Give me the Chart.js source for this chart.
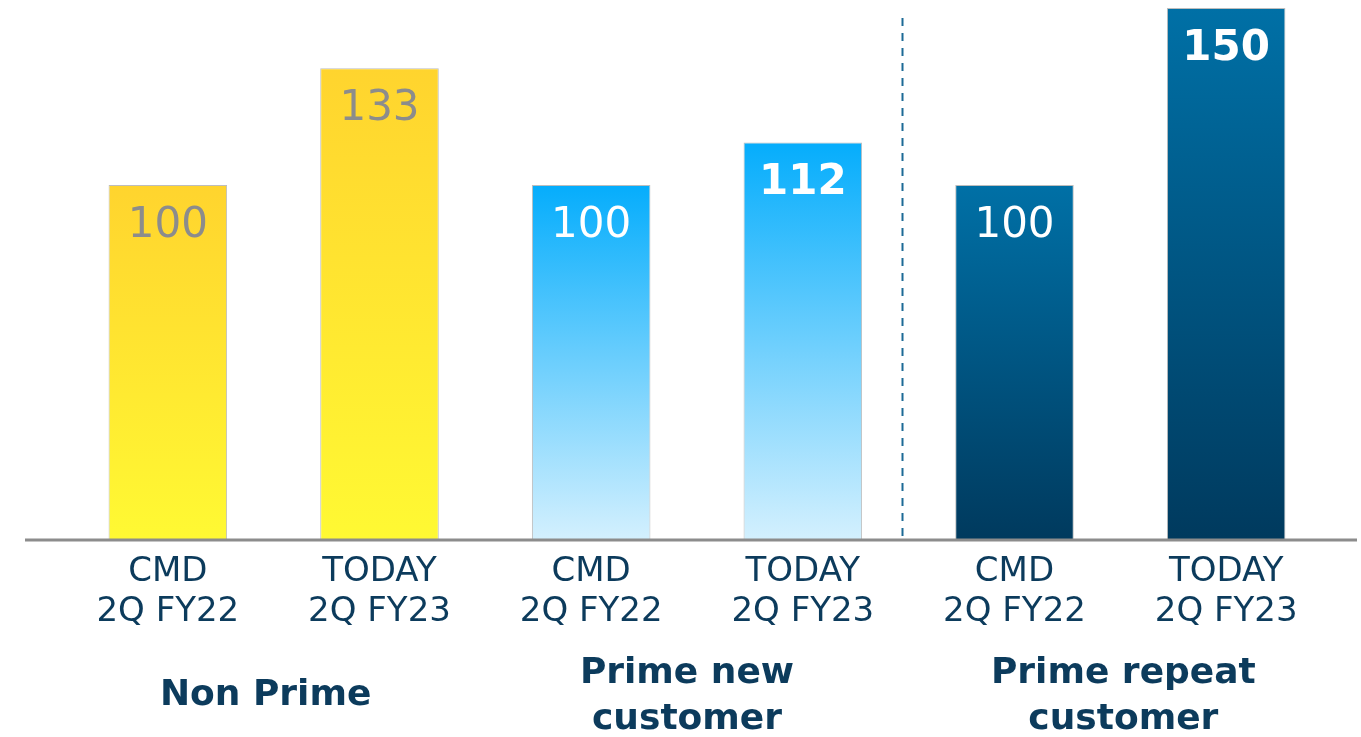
<!DOCTYPE html>
<html>
<head>
<meta charset="utf-8">
<script src="https://cdn.jsdelivr.net/npm/chart.js@4.4.0/dist/chart.umd.min.js"></script>
<style>
  html, body { margin: 0; padding: 0; background: #fff; }
  #wrap { width: 1361px; height: 737px; position: relative; }
</style>
</head>
<body>
<div id="wrap"><canvas id="chart"></canvas></div>
<script>
// Data
const categories = [
    ['CMD', '2Q FY22'], ['TODAY', '2Q FY23'],
    ['CMD', '2Q FY22'], ['TODAY', '2Q FY23'],
    ['CMD', '2Q FY22'], ['TODAY', '2Q FY23']
];
const values = [100, 133, 100, 112, 100, 150];
const groups = [
    ['Non Prime'],
    ['Prime new', 'customer'],
    ['Prime repeat', 'customer']
];

// Styles per bar (top colour, bottom colour, label colour, bold label)
const gradTop = ['#FFD42E', '#FFD42E', '#05ADFC', '#05ADFC', '#0070A6', '#0070A6'];
const gradBottom = ['#FFF933', '#FFF933', '#D3F0FE', '#D3F0FE', '#003A5E', '#003A5E'];
const labelColors = ['#8C8C8C', '#8C8C8C', '#FFFFFF', '#FFFFFF', '#FFFFFF', '#FFFFFF'];
const labelBold = [false, false, false, true, false, true];
// small horizontal nudges of the group titles, as in the slide
const groupNudge = [-8, -10, 3];

const NAVY = '#0C3B5C';

// Gradient per bar, from its own top to the baseline
function barGradient(context) {
    const chart = context.chart;
    const yScale = chart.scales.y;
    const i = context.dataIndex;
    if (!chart.chartArea || !yScale || i === undefined) return gradTop[i || 0];
    const top = yScale.getPixelForValue(values[i]);
    const bottom = yScale.getPixelForValue(0);
    const g = chart.ctx.createLinearGradient(0, top, 0, bottom);
    g.addColorStop(0, gradTop[i]);
    g.addColorStop(1, gradBottom[i]);
    return g;
}

// Baseline, divider, value labels and group titles
const decorPlugin = {
    id: 'decor',
    afterDatasetsDraw(chart) {
        const ctx = chart.ctx;
        const x = chart.scales.x;
        const y = chart.scales.y;
        const base = y.getPixelForValue(0);

        // baseline over the full width
        ctx.save();
        ctx.strokeStyle = '#8C8C8C';
        ctx.lineWidth = 3;
        ctx.beginPath();
        ctx.moveTo(25, base + 1);
        ctx.lineTo(1357, base + 1);
        ctx.stroke();

        // dashed divider between the prime groups
        const dx = Math.round(x.getPixelForValue(3.47)) + 0.5;
        ctx.strokeStyle = '#1C6A96';
        ctx.lineWidth = 2;
        ctx.setLineDash([8, 7]);
        ctx.beginPath();
        ctx.moveTo(dx, 18);
        ctx.lineTo(dx, base - 1);
        ctx.stroke();
        ctx.setLineDash([]);

        // value labels inside the bars
        const meta = chart.getDatasetMeta(0);
        ctx.textAlign = 'center';
        ctx.textBaseline = 'middle';
        meta.data.forEach((bar, i) => {
            ctx.font = (labelBold[i] ? 'bold ' : '') + '42px "DejaVu Sans"';
            ctx.fillStyle = labelColors[i];
            ctx.fillText(String(values[i]), bar.x, bar.y + 41);
        });

        // group titles under each pair
        ctx.font = 'bold 36px "DejaVu Sans"';
        ctx.fillStyle = NAVY;
        groups.forEach((lines, g) => {
            const cx = (x.getPixelForValue(g * 2) + x.getPixelForValue(g * 2 + 1)) / 2 + groupNudge[g];
            if (lines.length === 1) {
                ctx.fillText(lines[0], cx, 696);
            } else {
                ctx.fillText(lines[0], cx, 674);
                ctx.fillText(lines[1], cx, 720);
            }
        });
        ctx.restore();
    }
};

new Chart(document.getElementById('chart'), {
    type: 'bar',
    data: {
        labels: categories,
        datasets: [{
            data: values,
            backgroundColor: barGradient,
            borderColor: '#BDBDBD',
            borderWidth: 1,
            categoryPercentage: 0.56,
            barPercentage: 1
        }]
    },
    options: {
        responsive: true,
        maintainAspectRatio: false,
        animation: false,
        layout: {
            padding: { left: 62, right: 29, top: 8, bottom: 0 }
        },
        plugins: {
            legend: { display: false },
            tooltip: { enabled: false }
        },
        scales: {
            x: {
                grid: { display: false, drawTicks: false },
                border: { display: false },
                ticks: {
                    color: NAVY,
                    font: { family: '"DejaVu Sans"', size: 34, lineHeight: 1.18 },
                    padding: 13,
                    maxRotation: 0,
                    autoSkip: false
                },
                afterFit(scale) { scale.height = 198; }
            },
            y: {
                display: false,
                min: 0,
                max: 150
            }
        }
    },
    plugins: [decorPlugin]
});
</script>
</body>
</html>
